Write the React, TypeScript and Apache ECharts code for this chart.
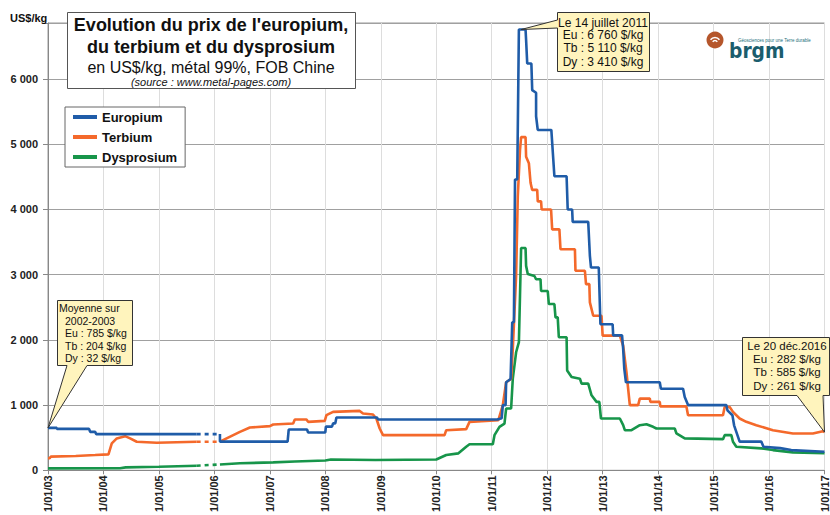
import React, { useEffect, useRef } from "react";
import * as echarts from "echarts";

const FONT = 'Arial, "Liberation Sans", Helvetica, sans-serif';

const X_MIN = 2003;
const X_MAX = 2017;
const Y_MAX = 6860;
const Y_STEP = 1000;

const SERIES_NAMES = ["Europium", "Terbium", "Dysprosium"];
const SERIES_COLORS = ["#1f5ca8", "#f4692b", "#17954a"];

// Europium (US$/kg) [decimal year, value]
const EU_BEFORE = [
  [2003.0, 650], [2003.16, 650], [2003.16, 635], [2003.74, 635], [2003.76, 590],
  [2003.85, 590], [2003.87, 555], [2005.68, 555],
];
const EU_GAP = [[2005.68, 555], [2006.1, 555]];
const EU_AFTER = [
  [2006.1, 555], [2006.1, 440], [2007.32, 440], [2007.34, 625], [2007.67, 625],
  [2007.69, 580], [2008.0, 580], [2008.01, 670], [2008.12, 670], [2008.14, 720],
  [2008.18, 720], [2008.2, 810], [2008.93, 810], [2008.95, 780], [2011.1, 780],
  [2011.18, 800], [2011.2, 1000], [2011.25, 1000], [2011.26, 1350], [2011.34, 1400],
  [2011.37, 2270], [2011.4, 2270], [2011.42, 4460], [2011.46, 4460], [2011.49, 6760],
  [2011.61, 6760], [2011.62, 6600], [2011.63, 6600], [2011.64, 6240], [2011.715, 6240],
  [2011.73, 5830], [2011.8, 5790], [2011.8, 5430], [2011.83, 5220], [2012.075, 5220],
  [2012.13, 4510], [2012.35, 4510], [2012.37, 4000], [2012.45, 4000], [2012.46, 3810],
  [2012.74, 3810], [2012.77, 3290], [2012.79, 3110], [2012.93, 3110], [2012.96, 2240],
  [2013.18, 2240], [2013.19, 2070], [2013.35, 2070], [2013.37, 1860], [2013.39, 1560],
  [2013.42, 1350], [2014.03, 1350], [2014.05, 1250], [2014.45, 1250], [2014.48, 1125],
  [2014.54, 1000], [2015.23, 1000], [2015.25, 920], [2015.34, 845], [2015.37, 690],
  [2015.41, 590], [2015.47, 440], [2015.86, 440], [2015.9, 360], [2016.2, 340],
  [2016.4, 310], [2017.0, 285],
];

// Terbium (US$/kg)
const TB_BEFORE = [
  [2003.0, 185], [2003.03, 185], [2003.05, 210], [2003.5, 220], [2003.85, 234],
  [2004.09, 244], [2004.15, 412], [2004.24, 489], [2004.39, 524], [2004.48, 489],
  [2004.6, 438], [2004.96, 422], [2005.68, 438],
];
const TB_GAP = [[2005.68, 438], [2006.1, 438]];
const TB_AFTER = [
  [2006.1, 438], [2006.22, 489], [2006.46, 590], [2006.64, 656], [2007.0, 677],
  [2007.06, 702], [2007.42, 717], [2007.45, 779], [2007.66, 779], [2007.69, 743],
  [2007.99, 758], [2008.02, 845], [2008.14, 896], [2008.62, 911], [2008.68, 870],
  [2008.86, 855], [2008.92, 794], [2008.98, 641], [2009.04, 539], [2010.15, 539],
  [2010.18, 615], [2010.54, 631], [2010.6, 743], [2011.12, 768], [2011.2, 1000],
  [2011.26, 1350], [2011.35, 1400], [2011.38, 1860], [2011.44, 2980], [2011.47, 4200],
  [2011.51, 4915], [2011.53, 5110], [2011.61, 5110], [2011.62, 4810], [2011.67, 4710],
  [2011.7, 4410], [2011.73, 4300], [2011.82, 4300], [2011.83, 4125], [2011.89, 4125],
  [2011.9, 4000], [2012.07, 4000], [2012.09, 3695], [2012.22, 3695], [2012.24, 3390],
  [2012.5, 3390], [2012.51, 3060], [2012.68, 3060], [2012.7, 2855], [2012.76, 2855],
  [2012.77, 2575], [2012.83, 2370], [2012.98, 2370], [2013.0, 2065], [2013.31, 2065],
  [2013.37, 1910], [2013.43, 1500], [2013.49, 1000], [2013.64, 1000], [2013.67, 1100],
  [2013.85, 1100], [2013.86, 1050], [2014.03, 1050], [2014.04, 980], [2014.51, 980],
  [2014.54, 845], [2015.17, 845], [2015.2, 970], [2015.29, 970], [2015.35, 896],
  [2015.47, 794], [2015.59, 743], [2015.77, 692], [2016.07, 615], [2016.43, 565],
  [2016.79, 565], [2016.97, 600], [2017.0, 585],
];

// Dysprosium (US$/kg)
const DY_BEFORE = [
  [2003.0, 30], [2004.3, 32], [2004.4, 45], [2005.0, 55], [2005.68, 70],
];
const DY_GAP = [[2005.68, 70], [2006.1, 90]];
const DY_AFTER = [
  [2006.1, 90], [2006.46, 107], [2007.06, 122], [2007.45, 135], [2008.0, 150],
  [2008.1, 165], [2008.9, 157], [2010.0, 165], [2010.18, 234], [2010.4, 260],
  [2010.54, 362], [2010.6, 400], [2011.02, 400], [2011.05, 539], [2011.14, 667],
  [2011.23, 717], [2011.26, 947], [2011.35, 947], [2011.38, 1405], [2011.44, 1810],
  [2011.49, 1965], [2011.51, 2676], [2011.53, 3410], [2011.61, 3410], [2011.62, 3135],
  [2011.65, 3010], [2011.77, 2980], [2011.8, 2930], [2011.88, 2930], [2011.89, 2750],
  [2012.01, 2750], [2012.03, 2550], [2012.13, 2550], [2012.15, 2345], [2012.19, 2345],
  [2012.21, 2040], [2012.35, 2040], [2012.36, 1530], [2012.44, 1430], [2012.59, 1405],
  [2012.62, 1330], [2012.74, 1330], [2012.8, 1150], [2012.89, 1050], [2012.94, 1050],
  [2012.97, 794], [2013.31, 794], [2013.37, 692], [2013.4, 615], [2013.52, 615],
  [2013.67, 692], [2013.79, 707], [2013.91, 667], [2013.97, 641], [2014.3, 641],
  [2014.33, 565], [2014.48, 489], [2015.17, 478], [2015.2, 539], [2015.32, 539],
  [2015.35, 438], [2015.41, 362], [2015.86, 336], [2016.07, 310], [2016.43, 275],
  [2017.0, 261],
];

const TITLE_LINES = [
  "Evolution du prix de l'europium,",
  "du terbium et du dysprosium",
  "en US$/kg, métal 99%, FOB Chine",
  "(source : www.metal-pages.com)",
];

const PEAK = { date: "Le 14 juillet 2011", x: 2011.53, y: 6760, eu: "6 760", tb: "5 110", dy: "3 410" };
const AVG = { title: "Moyenne sur", period: "2002-2003", x: 2003, y: 650, eu: "785", tb: "204", dy: "32" };
const LAST = { date: "Le 20 déc.2016", x: 2017, y: 585, eu: "282", tb: "585", dy: "261" };

const CALLOUT_FILL = "#fff4bd";
const CALLOUT_STROKE = "#333";

function fmtThousands(v: number): string {
  const s = String(Math.round(v));
  return s.replace(/\B(?=(\d{3})+(?!\d))/g, " ");
}

function txt(x: number, y: number, text: string, size: number, opts: any = {}) {
  return {
    type: "text",
    x,
    y,
    z: 101,
    silent: true,
    style: {
      text,
      fontSize: size,
      fontFamily: FONT,
      fontWeight: opts.weight || "normal",
      fontStyle: opts.style || "normal",
      fill: opts.fill || "#111",
      textAlign: opts.align || "center",
      textVerticalAlign: "middle",
      verticalAlign: "middle",
    },
  };
}

export default function App() {
  const ref = useRef<HTMLDivElement>(null);

  useEffect(() => {
    document.body.style.margin = "0";
    if (!ref.current) return;
    const chart = echarts.init(ref.current, null, { renderer: "svg" });

    const mainSeries = (name: string, color: string, a: number[][], b: number[][]) => ({
      name,
      type: "line",
      symbol: "none",
      connectNulls: false,
      data: [...a, [2005.9, "-"], ...b],
      lineStyle: { color, width: 2.6 },
      itemStyle: { color },
      z: 3,
    });
    const gapSeries = (name: string, color: string, g: number[][]) => ({
      name: name + " (lacune)",
      type: "line",
      symbol: "none",
      data: g,
      lineStyle: { color, width: 2.6, type: [4, 4] },
      itemStyle: { color },
      z: 3,
    });

    const option: any = {
      animation: false,
      backgroundColor: "#ffffff",
      grid: {
        left: 48,
        right: 4,
        top: 23,
        bottom: 43,
        show: true,
        borderColor: "#999",
        borderWidth: 1,
      },
      legend: {
        data: SERIES_NAMES,
        orient: "vertical",
        left: 65,
        top: 107,
        icon: "rect",
        itemWidth: 24,
        itemHeight: 4,
        itemGap: 4,
        padding: [2, 8, 2, 8],
        backgroundColor: "#fff",
        borderColor: "#666",
        borderWidth: 1,
        borderRadius: 0,
        textStyle: { fontFamily: FONT, fontWeight: "bold", fontSize: 13, color: "#111", lineHeight: 16 },
      },
      xAxis: {
        type: "value",
        min: X_MIN,
        max: X_MAX,
        interval: 1,
        axisLine: { show: true, lineStyle: { color: "#888", width: 1 } },
        axisTick: { show: true, length: 4, lineStyle: { color: "#888" } },
        splitLine: { show: true, lineStyle: { color: "#dddddd", width: 1 } },
        axisLabel: {
          rotate: 90,
          margin: 5,
          fontFamily: FONT,
          fontWeight: "bold",
          fontSize: 11,
          color: "#222",
          formatter: (v: number) => "1/01/" + String(Math.round(v)).slice(2),
        },
      },
      yAxis: {
        type: "value",
        min: 0,
        max: Y_MAX,
        interval: Y_STEP,
        axisLine: { show: true, lineStyle: { color: "#888", width: 1 } },
        axisTick: { show: true, inside: false, length: 5, lineStyle: { color: "#888" } },
        splitLine: { show: true, lineStyle: { color: "#a0a0a0", width: 1 } },
        axisLabel: {
          margin: 10,
          fontFamily: FONT,
          fontWeight: "bold",
          fontSize: 11,
          color: "#222",
          formatter: (v: number) => (v % Y_STEP === 0 ? fmtThousands(v) : ""),
        },
      },
      series: [
        mainSeries(SERIES_NAMES[2], SERIES_COLORS[2], DY_BEFORE, DY_AFTER),
        gapSeries(SERIES_NAMES[2], SERIES_COLORS[2], DY_GAP),
        mainSeries(SERIES_NAMES[1], SERIES_COLORS[1], TB_BEFORE, TB_AFTER),
        gapSeries(SERIES_NAMES[1], SERIES_COLORS[1], TB_GAP),
        mainSeries(SERIES_NAMES[0], SERIES_COLORS[0], EU_BEFORE, EU_AFTER),
        gapSeries(SERIES_NAMES[0], SERIES_COLORS[0], EU_GAP),
      ],
    };
    chart.setOption(option);

    const px = (x: number, y: number) => chart.convertToPixel({ gridIndex: 0 }, [x, y]) as number[];
    const tipPeak = px(PEAK.x, PEAK.y);
    const tipAvg = px(AVG.x, AVG.y);
    const tipLast = px(LAST.x, LAST.y);

    const poly = (points: number[][]) => ({
      type: "polygon",
      z: 100,
      silent: true,
      shape: { points },
      style: { fill: CALLOUT_FILL, stroke: CALLOUT_STROKE, lineWidth: 1 },
    });

    const graphic: any[] = [
      // Title box
      {
        type: "rect",
        z: 100,
        silent: true,
        shape: { x: 67.5, y: 12.5, width: 288, height: 76 },
        style: { fill: "#fff", stroke: "#555", lineWidth: 1 },
      },
      txt(211, 25, TITLE_LINES[0], 18, { weight: "bold" }),
      txt(211, 47, TITLE_LINES[1], 18, { weight: "bold" }),
      txt(211, 67, TITLE_LINES[2], 16),
      txt(211, 82, TITLE_LINES[3], 11, { style: "italic" }),
      // unit label
      txt(10, 18, "US$/kg", 11, { weight: "bold", align: "left" }),
      // Peak callout
      poly([[557.5, 12.5], [649.5, 12.5], [649.5, 71.5], [557.5, 71.5], [557.5, 28], tipPeak, [557.5, 20]]),
      txt(603, 22.5, PEAK.date, 12),
      txt(603, 35, "Eu : " + PEAK.eu + " $/kg", 12),
      txt(603, 48, "Tb : " + PEAK.tb + " $/kg", 12),
      txt(603, 61.5, "Dy : " + PEAK.dy + " $/kg", 12),
      // Average callout
      poly([[57.5, 300.5], [132.5, 300.5], [132.5, 365.5], [87, 365.5], tipAvg, [67, 365.5], [57.5, 365.5]]),
      txt(59, 308, AVG.title, 10.5, { align: "left" }),
      txt(65, 320.5, AVG.period, 10.5, { align: "left" }),
      txt(65, 333, "Eu : " + AVG.eu + " $/kg", 10.5, { align: "left" }),
      txt(65, 345.5, "Tb : " + AVG.tb + " $/kg", 10.5, { align: "left" }),
      txt(65, 358, "Dy : " + AVG.dy + " $/kg", 10.5, { align: "left" }),
      // Last callout
      poly([[742.5, 337.5], [829.5, 337.5], [829.5, 395.5], [823, 395.5], tipLast, [797, 395.5], [742.5, 395.5]]),
      txt(787, 346, LAST.date, 11.5),
      txt(787, 359, "Eu : " + LAST.eu + " $/kg", 11.5),
      txt(787, 372, "Tb : " + LAST.tb + " $/kg", 11.5),
      txt(787, 385.5, "Dy : " + LAST.dy + " $/kg", 11.5),
      // brgm logo
      {
        type: "circle",
        z: 100,
        silent: true,
        shape: { cx: 715, cy: 40, r: 8.5 },
        style: { fill: "#b5562b" },
      },
      {
        type: "arc",
        z: 101,
        silent: true,
        shape: { cx: 715, cy: 43, r: 2.5, startAngle: -Math.PI * 0.85, endAngle: -Math.PI * 0.15, clockwise: true },
        style: { stroke: "#fff", lineWidth: 1.5, fill: null },
      },
      {
        type: "arc",
        z: 101,
        silent: true,
        shape: { cx: 715, cy: 43, r: 5.5, startAngle: -Math.PI * 0.8, endAngle: -Math.PI * 0.2, clockwise: true },
        style: { stroke: "#fff", lineWidth: 1.5, fill: null },
      },
      {
        type: "text",
        z: 101,
        silent: true,
        x: 729,
        y: 61,
        scaleX: 0.85,
        style: {
          text: "brgm",
          fontSize: 22,
          fontWeight: "bold",
          fontFamily: '"DejaVu Sans", sans-serif',
          fill: "#1b5d6d",
          textAlign: "left",
          textVerticalAlign: "bottom",
          verticalAlign: "bottom",
        },
      },
      txt(738, 40, "Géosciences pour une Terre durable", 4.5, { align: "left", fill: "#1b6f7a" }),
    ];
    chart.setOption({ graphic });

    return () => {
      chart.dispose();
    };
  }, []);

  return (
    <div
      ref={ref}
      style={{ position: "fixed", left: 0, top: 0, width: 830, height: 515, background: "#fff" }}
    />
  );
}
